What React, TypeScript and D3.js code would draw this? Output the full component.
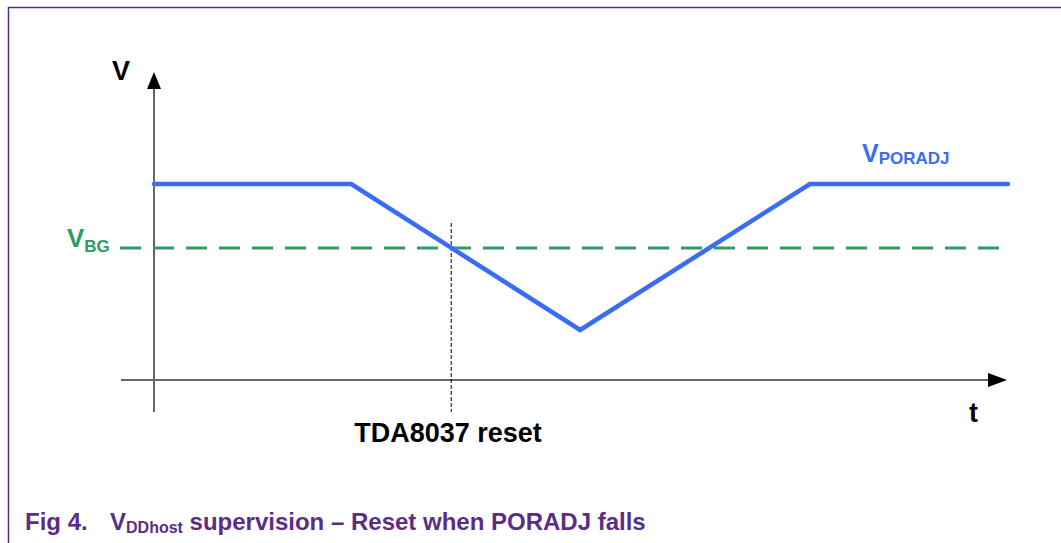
import React from "react";
import * as d3 from "d3";

// Data (time in arbitrary units, voltage normalised to the high PORADJ level)
const poradjTimes = [0, 2.31, 4.99, 7.68, 10];
const poradjValues = [1, 1, 0.255, 1, 1];
const vbgLevel = 0.673;
const resetTime = 3.48;
const labels = {
  yAxis: "V",
  xAxis: "t",
  reset: "TDA8037 reset",
  vbgMain: "V",
  vbgSub: "BG",
  poradjMain: "V",
  poradjSub: "PORADJ",
};

const W = 1061;
const H = 543;
const FONT = "'Liberation Sans', Arial, sans-serif";
const BLUE = "#3a6cf6";
const GREEN = "#2f9a66";
const PURPLE = "#5b2d87";
const AXIS = "#666666";

export default function App() {
  const x = d3.scaleLinear().domain([0, 10]).range([154, 1008]);
  const y = d3.scaleLinear().domain([0, 1]).range([380, 184]);

  const line = d3
    .line<number>()
    .x((_, i) => x(poradjTimes[i]))
    .y((d) => y(d));

  const x0 = x(0);
  const y0 = y(0);

  return (
    <svg
      width={W}
      height={H}
      style={{ position: "absolute", left: 0, top: 0, background: "#fff" }}
      fontFamily={FONT}
    >
      {/* frame */}
      <line x1={8} y1={7.5} x2={W} y2={7.5} stroke={PURPLE} strokeWidth={1.5} />
      <line x1={8.5} y1={7} x2={8.5} y2={H} stroke={PURPLE} strokeWidth={1.5} />

      {/* axes */}
      <line x1={x0} y1={86} x2={x0} y2={412} stroke={AXIS} strokeWidth={2} />
      <path d={`M${x0},72 L${x0 - 7},89 L${x0 + 7},89 Z`} fill="#000" />
      <line x1={121} y1={y0} x2={990} y2={y0} stroke={AXIS} strokeWidth={2} />
      <path d={`M1007,${y0} L988,${y0 - 7} L988,${y0 + 7} Z`} fill="#000" />

      <text x={112} y={80} fontSize={27} fontWeight="bold" fill="#000">
        {labels.yAxis}
      </text>
      <text x={969} y={422} fontSize={27} fontWeight="bold" fill="#000">
        {labels.xAxis}
      </text>

      {/* VBG dashed */}
      <line
        x1={120}
        y1={y(vbgLevel)}
        x2={x(10)}
        y2={y(vbgLevel)}
        stroke={GREEN}
        strokeWidth={3}
        strokeDasharray="21 12"
      />
      <text x={67} y={247} fontWeight="bold" fill={GREEN}>
        <tspan fontSize={26}>{labels.vbgMain}</tspan>
        <tspan fontSize={17} dy={5}>{labels.vbgSub}</tspan>
      </text>

      {/* reset marker */}
      <line
        x1={x(resetTime)}
        y1={223}
        x2={x(resetTime)}
        y2={412}
        stroke="#000"
        strokeWidth={1}
        strokeDasharray="4 2"
      />
      <text
        x={448}
        y={442}
        fontSize={27}
        fontWeight="bold"
        textAnchor="middle"
        fill="#000"
      >
        {labels.reset}
      </text>

      {/* PORADJ */}
      <path
        d={line(poradjValues) ?? ""}
        fill="none"
        stroke={BLUE}
        strokeWidth={4.5}
        strokeLinecap="round"
        strokeLinejoin="miter"
      />
      <text x={862} y={162} fontWeight="bold" fill={BLUE}>
        <tspan fontSize={25}>{labels.poradjMain}</tspan>
        <tspan fontSize={17} dy={2}>{labels.poradjSub}</tspan>
      </text>

      {/* caption */}
      <text y={530} fontWeight="bold" fill={PURPLE} fontSize={24}>
        <tspan x={25}>Fig 4.</tspan>
        <tspan x={110}>V</tspan>
        <tspan fontSize={16} dy={3}>DDhost</tspan>
        <tspan dy={-3}> supervision – Reset when PORADJ falls</tspan>
      </text>
    </svg>
  );
}
